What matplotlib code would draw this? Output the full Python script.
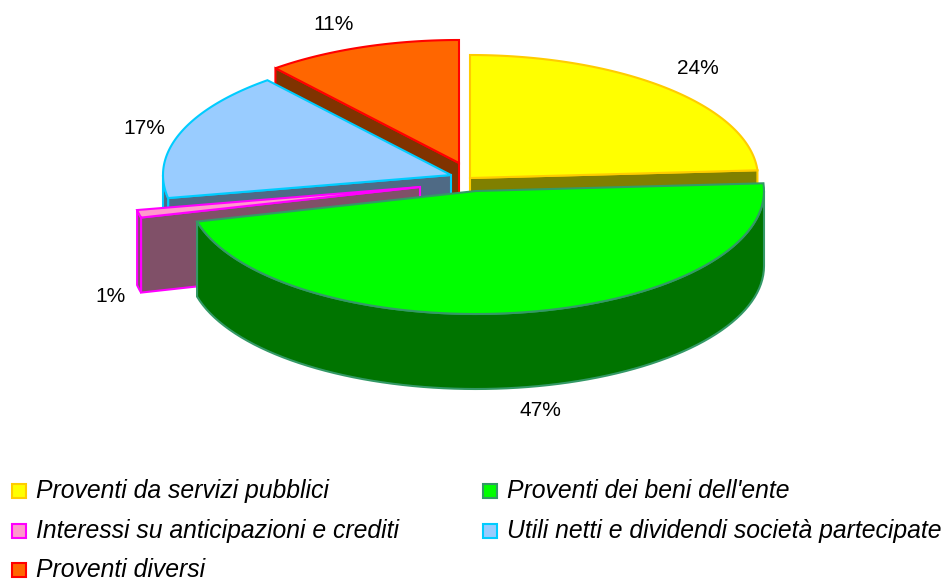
import numpy as np
import matplotlib

matplotlib.use("Agg")
import matplotlib.pyplot as plt
from matplotlib.patches import Polygon, Rectangle

# data
labels = [
    "Proventi da servizi pubblici",
    "Proventi dei beni dell'ente",
    "Interessi su anticipazioni e crediti",
    "Utili netti e dividendi società partecipate",
    "Proventi diversi",
]
shares = [24, 47, 1, 17, 11]

# colours per slice
top_colors = ["#FFFF00", "#00FF00", "#FF99CC", "#99CCFF", "#FF6600"]
edge_colors = ["#FFCC00", "#339966", "#FF00FF", "#00CCFF", "#FF0000"]
wall_colors = ["#808000", "#007400", "#805068", "#4F6A85", "#803300"]

# layout, in pixels of the picture
centres = [(470, 178), (476, 191), (420, 187), (451, 175), (459, 163)]
rx, ry = 288, 123
depth = 75
draw_order = [4, 3, 2, 0, 1]
pct_pos = [(698, 69), (540, 411), (111, 296), (144, 129), (334, 25)]
legend_pos = [(12, 491), (483, 491), (12, 531), (483, 531), (12, 570)]


def rim(cx, cy, a0, a1, n=80):
    # clockwise from 12 o'clock
    t = np.linspace(a0, a1, n)
    return np.column_stack([cx + rx * np.sin(t), cy - ry * np.cos(t)])


plt.rcParams["font.family"] = ["Liberation Sans", "DejaVu Sans"]

fig = plt.figure(figsize=(9.48, 5.81), dpi=100)
ax = fig.add_axes([0, 0, 1, 1])
ax.set_xlim(0, 948)
ax.set_ylim(581, 0)
ax.axis("off")

edges = np.cumsum([0] + shares) / sum(shares) * 2 * np.pi

for i in draw_order:
    cx, cy = centres[i]
    a0, a1 = edges[i], edges[i + 1]
    arc = rim(cx, cy, a0, a1)
    style = dict(edgecolor=edge_colors[i], linewidth=1.5, joinstyle="miter")

    # straight walls, only the ones facing us
    if np.sin(a0) < -1e-6:
        p = arc[0]
        wall = [(cx, cy), p, p + [0, depth], (cx, cy + depth)]
        ax.add_patch(Polygon(wall, facecolor=wall_colors[i], **style))
    if np.sin(a1) > 1e-6:
        p = arc[-1]
        wall = [(cx, cy), p, p + [0, depth], (cx, cy + depth)]
        ax.add_patch(Polygon(wall, facecolor=wall_colors[i], **style))

    # curved wall, front half of the rim only
    b0, b1 = max(a0, np.pi / 2), min(a1, 3 * np.pi / 2)
    if b0 < b1:
        front = rim(cx, cy, b0, b1)
        low = front + [0, depth]
        ax.add_patch(Polygon(np.vstack([front, low[::-1]]), facecolor=wall_colors[i], **style))

    # top face
    ax.add_patch(Polygon(np.vstack([[(cx, cy)], arc]), facecolor=top_colors[i], **style))

for v, (x, y) in zip(shares, pct_pos):
    ax.text(x, y, f"{v}%", fontsize=15, ha="center", va="center", color="black")

for i, (x, y) in enumerate(legend_pos):
    ax.add_patch(Rectangle((x, y - 7), 14, 14, facecolor=top_colors[i],
                           edgecolor=edge_colors[i], linewidth=1.5))
    ax.text(x + 24, y + 7, labels[i], fontsize=17.8, style="italic",
            ha="left", va="baseline", color="black")

fig.savefig("out.png", dpi=100, facecolor="white")
